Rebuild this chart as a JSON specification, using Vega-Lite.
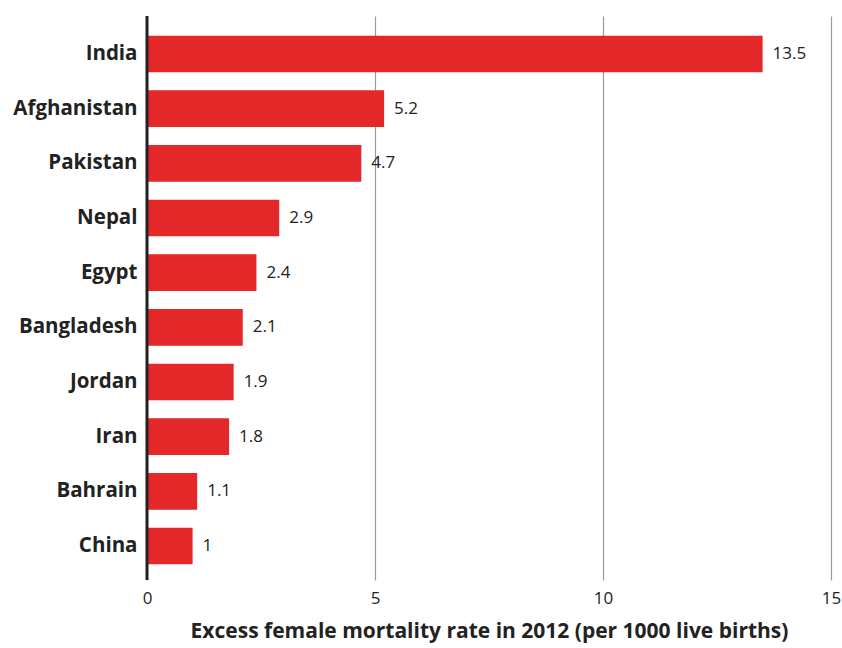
{
  "$schema": "https://vega.github.io/schema/vega-lite/v6.json",
  "width": 684,
  "height": 564,
  "autosize": {"type": "none"},
  "padding": {"left": 147, "top": 16, "right": 11, "bottom": 68},
  "background": "white",
  "data": {"values": [
    {"country": "India", "rate": 13.5, "label": "13.5"},
    {"country": "Afghanistan", "rate": 5.2, "label": "5.2"},
    {"country": "Pakistan", "rate": 4.7, "label": "4.7"},
    {"country": "Nepal", "rate": 2.9, "label": "2.9"},
    {"country": "Egypt", "rate": 2.4, "label": "2.4"},
    {"country": "Bangladesh", "rate": 2.1, "label": "2.1"},
    {"country": "Jordan", "rate": 1.9, "label": "1.9"},
    {"country": "Iran", "rate": 1.8, "label": "1.8"},
    {"country": "Bahrain", "rate": 1.1, "label": "1.1"},
    {"country": "China", "rate": 1, "label": "1"}
  ]},
  "config": {
    "view": {"stroke": null},
    "font": "Open Sans"
  },
  "encoding": {
    "y": {
      "field": "country", "type": "nominal", "sort": null,
      "scale": {"paddingInner": 0.33, "paddingOuter": 0.323},
      "axis": {
        "title": null, "domain": false, "ticks": false, "grid": false,
        "labelFont": "Open Sans", "labelFontWeight": "bold", "labelFontSize": 20.5,
        "labelColor": "#222222", "labelPadding": 10, "labelOffset": 2
      }
    },
    "x": {
      "field": "rate", "type": "quantitative",
      "scale": {"domain": [0, 15], "nice": false},
      "axis": {
        "values": [0, 5, 10, 15], "domain": false, "ticks": false,
        "grid": true, "gridColor": "#9a9a9a", "gridWidth": 1.2,
        "labelFont": "Open Sans", "labelFontSize": 17, "labelColor": "#222222",
        "labelPadding": 10, "labelFlush": false,
        "title": "Excess female mortality rate in 2012 (per 1000 live births)",
        "titleFont": "Open Sans", "titleFontWeight": "bold", "titleFontSize": 21,
        "titleColor": "#222222", "titlePadding": 14
      }
    }
  },
  "layer": [
    {"mark": {"type": "bar", "color": "#e4282a", "yOffset": 2}},
    {
      "mark": {"type": "text", "align": "left", "baseline": "middle", "dx": 10, "dy": 2, "fontSize": 17, "color": "#222222", "font": "Open Sans"},
      "encoding": {"text": {"field": "label"}}
    },
    {
      "data": {"values": [{"x": 0}]},
      "mark": {"type": "rule", "color": "#222222", "strokeWidth": 3},
      "encoding": {"x": {"field": "x", "type": "quantitative"}, "y": {"value": 0}, "y2": {"value": 564}}
    }
  ]
}
